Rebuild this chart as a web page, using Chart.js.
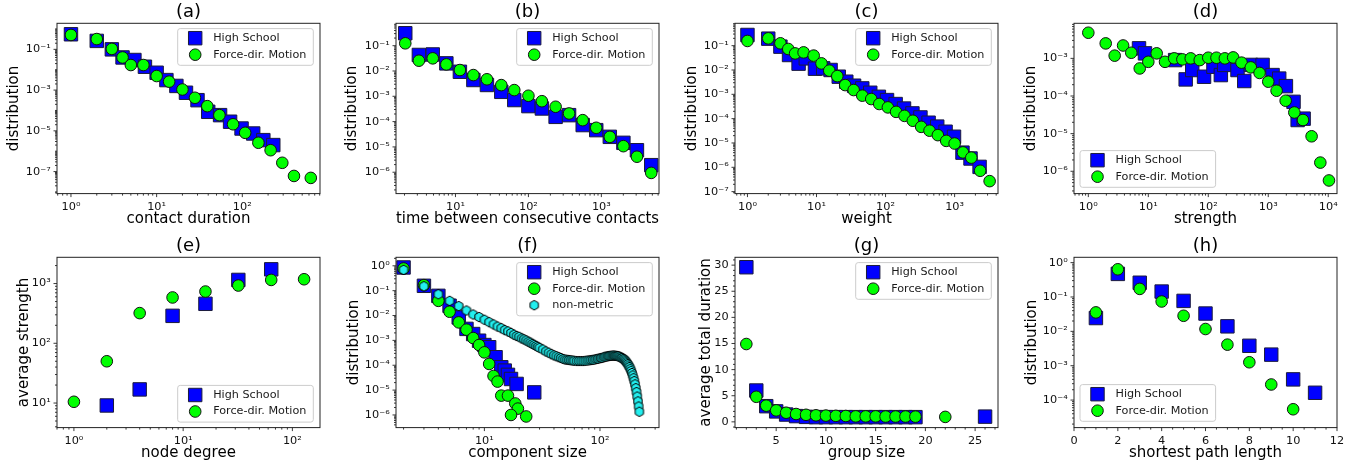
<!DOCTYPE html>
<html>
<head>
<meta charset="utf-8">
<script src="https://cdn.jsdelivr.net/npm/chart.js@4.4.1/dist/chart.umd.min.js"></script>
<style>
  html, body { margin: 0; padding: 0; background: #ffffff; }
  #wrap { position: relative; width: 1370px; height: 473px; overflow: hidden; background: #ffffff; }
  #wrap canvas { position: absolute; }
</style>
</head>
<body>
<div id="wrap">
  <canvas id="pa" width="339" height="234" style="left:0px;top:0px"></canvas>
  <canvas id="pb" width="339" height="234" style="left:339px;top:0px"></canvas>
  <canvas id="pc" width="339" height="234" style="left:678px;top:0px"></canvas>
  <canvas id="pd" width="339" height="234" style="left:1017px;top:0px"></canvas>
  <canvas id="pe" width="339" height="234" style="left:0px;top:234px"></canvas>
  <canvas id="pf" width="339" height="234" style="left:339px;top:234px"></canvas>
  <canvas id="pg" width="339" height="234" style="left:678px;top:234px"></canvas>
  <canvas id="ph" width="339" height="234" style="left:1017px;top:234px"></canvas>
</div>
<script>
// ---------- (a) contact duration ----------
const aHsX = [1, 2, 3, 4, 5.5, 7.3, 10, 13, 17, 22, 30, 40, 55, 72, 98, 134, 176, 230];
const aHsY = [0.55, 0.26, 0.1, 0.04, 0.03, 0.014, 0.0071, 0.0031, 0.0016, 7.4e-4, 3.2e-4, 8.6e-5, 5.9e-5, 2.8e-5, 1.3e-5, 7.4e-6, 3.5e-6, 2e-6];
const aFdX = [1, 2, 3, 4, 5, 7, 10, 14, 20, 28, 39, 54, 78, 108, 154, 214, 293, 401, 630];
const aFdY = [0.51, 0.32, 0.105, 0.04, 0.017, 0.017, 0.0049, 0.0026, 0.00107, 4.2e-4, 1.63e-4, 5.9e-5, 2.1e-5, 8e-6, 2.6e-6, 1.12e-6, 2.7e-7, 6.1e-8, 4.9e-8];
const aXTicks = [1, 10, 100];
const aYTicks = [1e-1, 1e-3, 1e-5, 1e-7];

// ---------- (b) time between consecutive contacts ----------
const bX = [2.05, 3.15, 4.88, 7.5, 11.5, 17.6, 27, 42.5, 64, 100, 153, 236, 361, 555, 851, 1306, 2005, 3076, 4830];
const bHsY = [0.31, 0.043, 0.045, 0.02, 0.0093, 0.0044, 0.0028, 0.0015, 7.1e-4, 4.1e-4, 3.3e-4, 1.54e-4, 1.8e-4, 7.3e-5, 4.6e-5, 2.5e-5, 1.45e-5, 7.4e-6, 1.9e-6];
const bFdY = [0.124, 0.0255, 0.0316, 0.0182, 0.0109, 0.0069, 0.0047, 0.00277, 0.00176, 0.00105, 6.4e-4, 3.86e-4, 2.1e-4, 1.14e-4, 5.7e-5, 2.5e-5, 1.07e-5, 4.1e-6, 9.4e-7];
const bXTicks = [10, 100, 1000];
const bYTicks = [1e-1, 1e-2, 1e-3, 1e-4, 1e-5, 1e-6];

// ---------- (c) weight ----------
const cHsX = [1, 2, 3, 4, 5.5, 7, 9.5, 12.5, 16, 21, 27, 35, 46, 60, 80, 105, 140, 185, 245, 320, 420, 560, 740, 980, 1300, 1700, 2300];
const cHsY = [0.275, 0.194, 0.091, 0.0413, 0.0182, 0.0301, 0.0113, 0.0117, 0.01, 0.0053, 0.0033, 0.00226, 0.00175, 0.00116, 7.9e-4, 5.8e-4, 3.98e-4, 2.6e-4, 1.64e-4, 1.12e-4, 6.8e-5, 4.7e-5, 2.9e-5, 1.8e-5, 4e-6, 2.3e-6, 1.04e-6];
const cFdX = [1, 2, 3, 3.9, 4.9, 6.5, 9.1, 11.8, 15.3, 20, 26, 34.5, 46, 62, 81, 108, 142, 188, 248, 328, 433, 572, 756, 1000, 1320, 1745, 2345, 3215];
const cFdY = [0.156, 0.2, 0.125, 0.073, 0.048, 0.053, 0.039, 0.0187, 0.0094, 0.0056, 0.0024, 0.0015, 8.8e-4, 6.4e-4, 4e-4, 2.9e-4, 1.9e-4, 1.3e-4, 8.2e-5, 4.6e-5, 3.2e-5, 2.1e-5, 1.22e-5, 9.5e-6, 4.1e-6, 2.5e-6, 7.2e-7, 2.7e-7];
const cXTicks = [1, 10, 100, 1000];
const cYTicks = [1e-1, 1e-2, 1e-3, 1e-4, 1e-5, 1e-6, 1e-7];

// ---------- (d) strength ----------
const dHsX = [7, 8.8, 28, 42, 54, 85, 122, 162, 184, 307, 398, 513, 804, 1180, 1523, 1970, 2640, 3090, 3890];
const dHsY = [1.85e-3, 1.36e-3, 9e-4, 2.76e-4, 4.9e-4, 3.25e-4, 6e-4, 3.6e-4, 6.7e-4, 4.9e-4, 2.5e-4, 6.7e-4, 6.7e-4, 3.6e-4, 2.9e-4, 1.83e-4, 7e-5, 2.3e-5, 2.5e-5];
const dFdX = [1, 1.95, 2.75, 3.8, 5.2, 7.2, 10, 13.8, 19, 27, 37, 51, 72, 100, 137, 189, 260, 358, 512, 716, 1000, 1377, 1950, 2720, 3790, 5280, 7380, 10280];
const dFdY = [4.8e-3, 2.5e-3, 1.18e-3, 2.2e-3, 1.41e-3, 5.4e-4, 8.1e-4, 1.36e-3, 8.1e-4, 1e-3, 9.4e-4, 1e-3, 9e-4, 1.04e-3, 1.04e-3, 1e-3, 1.06e-3, 7.7e-4, 5.76e-4, 4.1e-4, 2.4e-4, 1.38e-4, 7.5e-5, 3.65e-5, 2.3e-5, 8.5e-6, 1.7e-6, 5.7e-7];
const dXTicks = [1, 10, 100, 1000, 10000];
const dYTicks = [1e-3, 1e-4, 1e-5, 1e-6];

// ---------- (e) node degree vs average strength ----------
const eHsX = [2, 4, 8, 16, 32, 64];
const eHsY = [9.1, 16.9, 288, 458, 1150, 1730];
const eFdX = [1, 2, 4, 8, 16, 32, 64, 128];
const eFdY = [10.5, 50, 320, 585, 735, 926, 1150, 1180];
const eXTicks = [1, 10, 100];
const eYTicks = [10, 100, 1000];

// ---------- (f) component size ----------
const fHsX = [2, 3, 4, 5, 6, 7, 8, 9, 10, 11, 12.5, 14, 15, 16, 17, 19, 27];
const fHsY = [0.857, 0.157, 0.062, 0.0248, 0.0084, 0.0029, 1.8e-3, 9.7e-4, 6.5e-4, 5.3e-4, 2.1e-4, 8.3e-5, 6.1e-5, 4.1e-5, 2.8e-5, 1.77e-5, 8.1e-6];
const fFdX = [2, 3, 4, 5, 6, 7, 8, 9, 10, 11, 12, 13, 14, 16, 18.5, 19.5, 17, 23];
const fFdY = [0.78, 0.167, 0.039, 0.0142, 0.0053, 0.0027, 1.24e-3, 6.5e-4, 3.3e-4, 1.13e-4, 3.7e-5, 2.2e-5, 6e-6, 6e-6, 2.9e-6, 1.8e-6, 1e-6, 8.7e-7];
const fNmX = [2, 3, 4, 5, 6, 7, 8, 9, 10, 11, 12, 13, 14, 15, 16, 17, 18, 19, 20, 21, 22, 23, 24, 25, 26, 27, 28, 29, 30,
  32, 34, 36, 38, 40, 42, 44, 46, 48, 50, 52, 54, 56, 58, 60,
  63, 66, 69, 72, 75, 78, 81, 84, 87, 90, 93, 96, 99, 102, 105, 108, 111, 114, 117, 120,
  123, 126, 129, 132, 135, 138, 141, 144, 147, 150, 153, 156, 159, 162, 165, 168, 171, 174, 177, 180,
  183, 186, 189, 192, 195, 198, 201, 204, 207, 210, 213, 216, 219];
const fNmY = [0.69, 0.15, 0.072, 0.039, 0.024, 0.016, 0.011, 0.0087, 0.0068, 0.0054, 0.0044, 0.0036, 0.0031, 0.0026, 0.0023, 0.002, 0.0017, 0.0015, 0.0014, 0.0012, 0.0011, 0.001, 8.9e-4, 8.1e-4, 7.2e-4, 6.6e-4, 6e-4, 5.5e-4, 5e-4,
  4.3e-4, 3.6e-4, 3.2e-4, 2.8e-4, 2.5e-4, 2.3e-4, 2.1e-4, 1.95e-4, 1.8e-4, 1.7e-4, 1.66e-4, 1.62e-4, 1.58e-4, 1.55e-4, 1.51e-4,
  1.48e-4, 1.48e-4, 1.48e-4, 1.48e-4, 1.51e-4, 1.55e-4, 1.58e-4, 1.62e-4, 1.66e-4, 1.7e-4, 1.78e-4, 1.82e-4, 1.9e-4, 1.95e-4, 2e-4, 2.1e-4, 2.2e-4, 2.24e-4, 2.3e-4, 2.35e-4,
  2.4e-4, 2.4e-4, 2.45e-4, 2.45e-4, 2.4e-4, 2.4e-4, 2.35e-4, 2.3e-4, 2.24e-4, 2.1e-4, 2e-4, 1.95e-4, 1.8e-4, 1.7e-4, 1.55e-4, 1.4e-4, 1.26e-4, 1.12e-4, 9.8e-5, 8.5e-5,
  7.2e-5, 6e-5, 4.9e-5, 3.9e-5, 3e-5, 2.3e-5, 1.7e-5, 1.2e-5, 8.3e-6, 5.5e-6, 3.5e-6, 2.2e-6, 1.35e-6];
const fXTicks = [10, 100];
const fYTicks = [1, 1e-1, 1e-2, 1e-3, 1e-4, 1e-5, 1e-6];

// ---------- (g) group size vs average total duration ----------
const gHsX = [2, 3, 4, 5, 6, 7, 8, 9, 10, 11, 12, 13, 14, 15, 16, 17, 18, 19, 26];
const gHsY = [29.6, 6.0, 3.0, 2.0, 1.4, 1.1, 0.95, 0.9, 0.9, 0.9, 0.9, 0.9, 0.9, 0.9, 0.9, 0.9, 0.9, 0.9, 1.0];
const gFdX = [2, 3, 4, 5, 6, 7, 8, 9, 10, 11, 12, 13, 14, 15, 16, 17, 18, 19, 22];
const gFdY = [14.9, 4.8, 3.1, 2.2, 1.75, 1.5, 1.35, 1.25, 1.2, 1.15, 1.12, 1.05, 1.05, 1.05, 1.02, 1.02, 1.02, 1.0, 0.95];
const gXTicks = [5, 10, 15, 20, 25];
const gYTicks = [0, 5, 10, 15, 20, 25, 30];

// ---------- (h) shortest path length ----------
const hHsX = [1, 2, 3, 4, 5, 6, 7, 8, 9, 10, 11];
const hHsY = [0.0244, 0.47, 0.26, 0.144, 0.077, 0.033, 0.014, 0.0038, 0.0021, 4e-4, 1.63e-4];
const hFdX = [1, 2, 3, 4, 5, 6, 7, 8, 9, 10];
const hFdY = [0.0356, 0.64, 0.172, 0.074, 0.0284, 0.0117, 0.0041, 1.26e-3, 2.84e-4, 5.4e-5];
const hXTicks = [0, 2, 4, 6, 8, 10, 12];
const hYTicks = [1, 1e-1, 1e-2, 1e-3, 1e-4];

// ---------- series names ----------
const seriesNames = { hs: 'High School', fd: 'Force-dir. Motion', nm: 'non-metric' };

// ---------- drawing ----------
const FONT = "'DejaVu Sans', 'Liberation Sans', sans-serif";
Chart.defaults.font.family = FONT;

const SUP = { '0': '⁰', '1': '¹', '2': '²', '3': '³', '4': '⁴', '5': '⁵', '6': '⁶', '7': '⁷', '8': '⁸', '9': '⁹', '-': '⁻' };
function powLabel(v) {
  const e = Math.round(Math.log10(v));
  return '10' + String(e).split('').map(c => SUP[c]).join('');
}

function hexagon(r, fill, stroke) {
  const s = Math.ceil(2 * r + 2);
  const c = document.createElement('canvas');
  c.width = s; c.height = s;
  const g = c.getContext('2d');
  g.translate(s / 2, s / 2);
  g.beginPath();
  for (let i = 0; i < 6; i++) {
    const a = -Math.PI / 2 + i * Math.PI / 3;
    g.lineTo(r * Math.cos(a), r * Math.sin(a));
  }
  g.closePath();
  g.fillStyle = fill; g.fill();
  g.lineWidth = 1; g.strokeStyle = stroke; g.stroke();
  return c;
}
const HEX = hexagon(4.8, '#22efef', '#000000');

const STYLE = {
  hs: { pointStyle: 'rect', pointRadius: 9.5, pointBackgroundColor: '#0000ff', pointBorderColor: '#1b1b3c', pointBorderWidth: 1, order: 3 },
  fd: { pointStyle: 'circle', pointRadius: 5.8, pointBackgroundColor: '#00ff00', pointBorderColor: '#111111', pointBorderWidth: 1, order: 2 },
  nm: { pointStyle: HEX, pointRadius: 5, pointBackgroundColor: '#22efef', pointBorderColor: '#000000', pointBorderWidth: 1, order: 1 }
};

function pts(xs, ys) { return xs.map((x, i) => ({ x: x, y: ys[i] })); }

function logMinor(min, max, majors) {
  const out = [];
  for (let d = Math.floor(Math.log10(min)); d <= Math.ceil(Math.log10(max)); d++) {
    for (let k = 1; k < 10; k++) {
      const v = k * Math.pow(10, d);
      if (v >= min && v <= max && !majors.some(m => Math.abs(m - v) / v < 1e-6)) out.push(v);
    }
  }
  return out;
}
function linMinor(min, max, step, majors) {
  const out = [];
  for (let v = Math.ceil(min / step) * step; v <= max + 1e-9; v += step) {
    if (!majors.some(m => Math.abs(m - v) < 1e-9)) out.push(v);
  }
  return out;
}

function drawMarker(ctx, kind, x, y) {
  const st = STYLE[kind];
  ctx.save();
  if (kind === 'nm') {
    ctx.drawImage(HEX, x - HEX.width / 2, y - HEX.height / 2);
  } else if (kind === 'hs') {
    const h = st.pointRadius * Math.SQRT1_2;
    ctx.fillStyle = st.pointBackgroundColor; ctx.strokeStyle = st.pointBorderColor; ctx.lineWidth = st.pointBorderWidth;
    ctx.beginPath(); ctx.rect(x - h, y - h, 2 * h, 2 * h); ctx.fill(); ctx.stroke();
  } else {
    ctx.fillStyle = st.pointBackgroundColor; ctx.strokeStyle = st.pointBorderColor; ctx.lineWidth = st.pointBorderWidth;
    ctx.beginPath(); ctx.arc(x, y, st.pointRadius, 0, Math.PI * 2); ctx.fill(); ctx.stroke();
  }
  ctx.restore();
}

function roundRect(ctx, x, y, w, h, r) {
  ctx.beginPath();
  ctx.moveTo(x + r, y);
  ctx.lineTo(x + w - r, y); ctx.arcTo(x + w, y, x + w, y + r, r);
  ctx.lineTo(x + w, y + h - r); ctx.arcTo(x + w, y + h, x + w - r, y + h, r);
  ctx.lineTo(x + r, y + h); ctx.arcTo(x, y + h, x, y + h - r, r);
  ctx.lineTo(x, y + r); ctx.arcTo(x, y, x + r, y, r);
  ctx.closePath();
}

// frame, tick marks, panel letter and in-axes legend
function makeDeco(p) {
  return {
    id: 'deco_' + p.id,
    afterDraw(chart) {
      const ctx = chart.ctx, ca = chart.chartArea, sx = chart.scales.x, sy = chart.scales.y;
      ctx.save();
      const xMinor = p.xType === 'logarithmic' ? logMinor(p.xMin, p.xMax, p.xTicks) : linMinor(p.xMin, p.xMax, p.xMinorStep, p.xTicks);
      const yMinor = p.yType === 'logarithmic' ? logMinor(p.yMin, p.yMax, p.yTicks) : linMinor(p.yMin, p.yMax, p.yMinorStep, p.yTicks);
      ctx.strokeStyle = '#222222';
      ctx.lineWidth = 0.9;
      ctx.beginPath();
      p.xTicks.forEach(v => { const px = sx.getPixelForValue(v); ctx.moveTo(px, ca.bottom); ctx.lineTo(px, ca.bottom + 3.5); });
      xMinor.forEach(v => { const px = sx.getPixelForValue(v); ctx.moveTo(px, ca.bottom); ctx.lineTo(px, ca.bottom + 2); });
      p.yTicks.forEach(v => { const py = sy.getPixelForValue(v); ctx.moveTo(ca.left, py); ctx.lineTo(ca.left - 3.5, py); });
      yMinor.forEach(v => { const py = sy.getPixelForValue(v); ctx.moveTo(ca.left, py); ctx.lineTo(ca.left - 2, py); });
      ctx.stroke();

      ctx.lineWidth = 1;
      ctx.strokeStyle = '#222222';
      ctx.strokeRect(ca.left, ca.top, ca.right - ca.left, ca.bottom - ca.top);

      ctx.fillStyle = '#000000';
      ctx.font = '18px ' + FONT;
      ctx.textAlign = 'center';
      ctx.textBaseline = 'middle';
      ctx.fillText(p.title, (ca.left + ca.right) / 2, ca.top - 10.8);

      const kinds = p.series.map(s => s[0]);
      const W = 135.6, rowH = 16.5, H = 3.7 + kinds.length * rowH;
      let lx, ly;
      if (p.legend === 'tr') { lx = ca.right - 6.7 - W; ly = ca.top + 5.3; }
      else if (p.legend === 'br') { lx = ca.right - 6.7 - W; ly = ca.bottom - 5.5 - H; }
      else { lx = ca.left + 6; ly = ca.bottom - 6.3 - H; }
      roundRect(ctx, lx, ly, W, H, 2.5);
      ctx.fillStyle = 'rgba(255,255,255,0.8)';
      ctx.fill();
      ctx.strokeStyle = '#cccccc';
      ctx.lineWidth = 1;
      ctx.stroke();
      kinds.forEach((k, i) => {
        const cy = ly + 9.6 + i * rowH;
        drawMarker(ctx, k, lx + 17.5, cy);
        ctx.fillStyle = '#1a1a1a';
        ctx.font = '11.2px ' + FONT;
        ctx.textAlign = 'left';
        ctx.textBaseline = 'middle';
        ctx.fillText(seriesNames[k], lx + 35.5, cy);
      });
      ctx.restore();
    }
  };
}

function axis(p, which) {
  const isX = which === 'x';
  const type = isX ? p.xType : p.yType;
  const ticksArr = isX ? p.xTicks : p.yTicks;
  return {
    type: type,
    position: isX ? 'bottom' : 'left',
    min: isX ? p.xMin : p.yMin,
    max: isX ? p.xMax : p.yMax,
    bounds: 'data',
    grid: { display: false, drawTicks: false },
    border: { display: false },
    ticks: {
      autoSkip: false, maxRotation: 0, minRotation: 0,
      padding: isX ? 7 : 6.3,
      color: '#111111',
      font: { family: FONT, size: 11.3 },
      callback: (v) => type === 'logarithmic' ? powLabel(v) : String(v)
    },
    title: {
      display: true,
      text: isX ? p.xLabel : p.yLabel,
      color: '#000000',
      font: { family: FONT, size: 15 },
      padding: isX ? { top: 0, bottom: 6.3 } : { top: p.yTitlePad, bottom: 0 }
    },
    afterBuildTicks: (s) => { s.ticks = ticksArr.map(v => ({ value: v })); },
    afterFit: (s) => { if (isX) s.height = 40.4; else s.width = 57; }
  };
}

const panels = [
  { id: 'pa', title: '(a)', xType: 'logarithmic', xMin: 0.687, xMax: 807, xTicks: aXTicks, xLabel: 'contact duration',
    yType: 'logarithmic', yMin: 8.3e-9, yMax: 1.9, yTicks: aYTicks, yLabel: 'distribution', yTitlePad: 5, legend: 'tr',
    series: [['hs', aHsX, aHsY], ['fd', aFdX, aFdY]] },
  { id: 'pb', title: '(b)', xType: 'logarithmic', xMin: 1.53, xMax: 6170, xTicks: bXTicks, xLabel: 'time between consecutive contacts',
    yType: 'logarithmic', yMin: 1.43e-7, yMax: 0.766, yTicks: bYTicks, yLabel: 'distribution', yTitlePad: 4.4, legend: 'tr',
    series: [['hs', bX, bHsY], ['fd', bX, bFdY]] },
  { id: 'pc', title: '(c)', xType: 'logarithmic', xMin: 0.66, xMax: 4250, xTicks: cXTicks, xLabel: 'weight',
    yType: 'logarithmic', yMin: 8.3e-8, yMax: 0.83, yTicks: cYTicks, yLabel: 'distribution', yTitlePad: 5.4, legend: 'tr',
    series: [['hs', cHsX, cHsY], ['fd', cFdX, cFdY]] },
  { id: 'pd', title: '(d)', xType: 'logarithmic', xMin: 0.577, xMax: 14000, xTicks: dXTicks, xLabel: 'strength',
    yType: 'logarithmic', yMin: 2.55e-7, yMax: 0.00855, yTicks: dYTicks, yLabel: 'distribution', yTitlePad: 4.7, legend: 'bl',
    series: [['hs', dHsX, dHsY], ['fd', dFdX, dFdY]] },
  { id: 'pe', title: '(e)', xType: 'logarithmic', xMin: 0.70, xMax: 179, xTicks: eXTicks, xLabel: 'node degree',
    yType: 'logarithmic', yMin: 3.88, yMax: 2750, yTicks: eYTicks, yLabel: 'average strength', yTitlePad: 15, legend: 'br',
    series: [['hs', eHsX, eHsY], ['fd', eFdX, eFdY]] },
  { id: 'pf', title: '(f)', xType: 'logarithmic', xMin: 1.72, xMax: 324, xTicks: fXTicks, xLabel: 'component size',
    yType: 'logarithmic', yMin: 3.1e-7, yMax: 2.2, yTicks: fYTicks, yLabel: 'distribution', yTitlePad: 6, legend: 'tr',
    series: [['hs', fHsX, fHsY], ['fd', fFdX, fFdY], ['nm', fNmX, fNmY]] },
  { id: 'pg', title: '(g)', xType: 'linear', xMin: 0.86, xMax: 27.3, xTicks: gXTicks, xMinorStep: 1, xLabel: 'group size',
    yType: 'linear', yMin: -1.1, yMax: 31.5, yTicks: gYTicks, yMinorStep: 1, yLabel: 'average total duration', yTitlePad: 18.7, legend: 'tr',
    series: [['hs', gHsX, gHsY], ['fd', gFdX, gFdY]] },
  { id: 'ph', title: '(h)', xType: 'linear', xMin: 0, xMax: 12, xTicks: hXTicks, xMinorStep: 0.5, xLabel: 'shortest path length',
    yType: 'logarithmic', yMin: 1.58e-5, yMax: 1.43, yTicks: hYTicks, yLabel: 'distribution', yTitlePad: 6.4, legend: 'bl',
    series: [['hs', hHsX, hHsY], ['fd', hFdX, hFdY]] }
];

panels.forEach(p => {
  new Chart(document.getElementById(p.id), {
    type: 'scatter',
    data: {
      datasets: p.series.map(([kind, xs, ys]) => Object.assign({
        label: seriesNames[kind],
        data: pts(xs, ys),
        showLine: false,
        clip: false
      }, STYLE[kind]))
    },
    options: {
      responsive: false,
      animation: false,
      events: [],
      layout: { padding: { top: 23.3, right: 19, bottom: 0, left: 0 } },
      plugins: { legend: { display: false }, tooltip: { enabled: false }, title: { display: false } },
      scales: { x: axis(p, 'x'), y: axis(p, 'y') }
    },
    plugins: [makeDeco(p)]
  });
});
</script>
</body>
</html>
